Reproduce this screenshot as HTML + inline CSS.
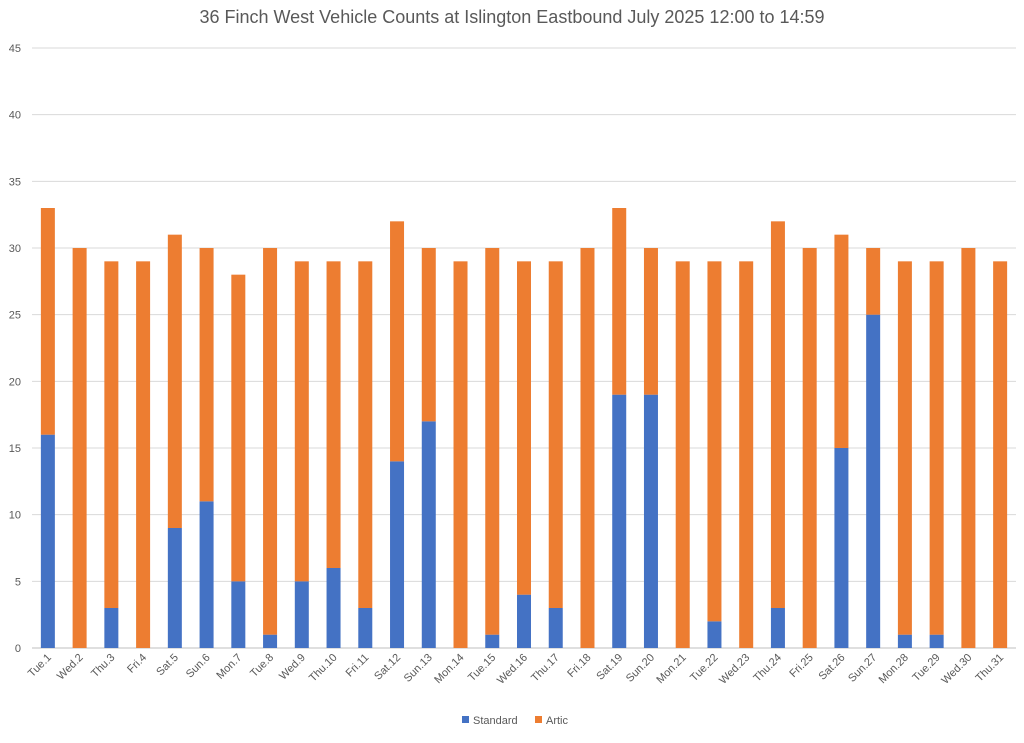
<!DOCTYPE html>
<html><head><meta charset="utf-8">
<style>
body{margin:0;background:#fff;font-family:"Liberation Sans",sans-serif;}
svg text{font-family:"Liberation Sans",sans-serif;}
</style></head>
<body>
<svg id="chart" width="1024" height="738" xmlns="http://www.w3.org/2000/svg">
<text x="512" y="23" text-anchor="middle" font-size="18" fill="#595959">36 Finch West Vehicle Counts at Islington Eastbound July 2025  12:00 to 14:59</text>
<g id="grid"></g><g id="bars"></g><g id="xlabels"></g>
<g>
<rect x="462" y="716" width="7" height="7" fill="#4472c4"/>
<text x="473" y="724" font-size="11" fill="#595959">Standard</text>
<rect x="535" y="716" width="7" height="7" fill="#ed7d31"/>
<text x="546" y="724" font-size="11" fill="#595959">Artic</text>
</g>
</svg>
<script>
const categories=["Tue.1","Wed.2","Thu.3","Fri.4","Sat.5","Sun.6","Mon.7","Tue.8","Wed.9","Thu.10","Fri.11","Sat.12","Sun.13","Mon.14","Tue.15","Wed.16","Thu.17","Fri.18","Sat.19","Sun.20","Mon.21","Tue.22","Wed.23","Thu.24","Fri.25","Sat.26","Sun.27","Mon.28","Tue.29","Wed.30","Thu.31"];
const standard=[16,0,3,0,9,11,5,1,5,6,3,14,17,0,1,4,3,0,19,19,0,2,0,3,0,15,25,1,1,0,0];
const artic=[17,30,26,29,22,19,23,29,24,23,26,18,13,29,29,25,26,30,14,11,29,27,29,29,30,16,5,28,28,30,29];
const yTicks=[0,5,10,15,20,25,30,35,40,45];
const NS="http://www.w3.org/2000/svg";
const x0=32,x1=1016,y0=648,y1=48,yMax=45;
const bw=(x1-x0)/categories.length, barW=14;
const y=v=>y0-(v/yMax)*(y0-y1);
const xc=i=>x0+bw*(i+0.5);
function mk(t,a,p){const e=document.createElementNS(NS,t);for(const k in a)e.setAttribute(k,a[k]);p.appendChild(e);return e;}
const grid=document.getElementById('grid'),bars=document.getElementById('bars'),xl=document.getElementById('xlabels');
yTicks.forEach(v=>{
  const l=mk('line',{x1:x0,x2:x1,y1:y(v),y2:y(v),stroke:v===0?'#bfbfbf':'#d9d9d9','stroke-width':1},grid);
  
  
  const t=mk('text',{x:21,y:y(v)+4,'text-anchor':'end','font-size':11,fill:'#595959'},grid);
  t.textContent=v;
  
  
});
categories.forEach((c,i)=>{
  const s=mk('rect',{x:xc(i)-barW/2,y:y(standard[i]),width:barW,height:y0-y(standard[i]),fill:'#4472c4'},bars);
  
  
  const a=mk('rect',{x:xc(i)-barW/2,y:y(standard[i]+artic[i]),width:barW,height:y(standard[i])-y(standard[i]+artic[i]),fill:'#ed7d31'},bars);
  
  
  const t=mk('text',{x:xc(i)+4,y:y0+10,'text-anchor':'end','font-size':11,fill:'#595959',transform:`rotate(-45 ${xc(i)+4} ${y0+10})`},xl);
  t.textContent=c;
  
  
});
</script>
</body></html>
